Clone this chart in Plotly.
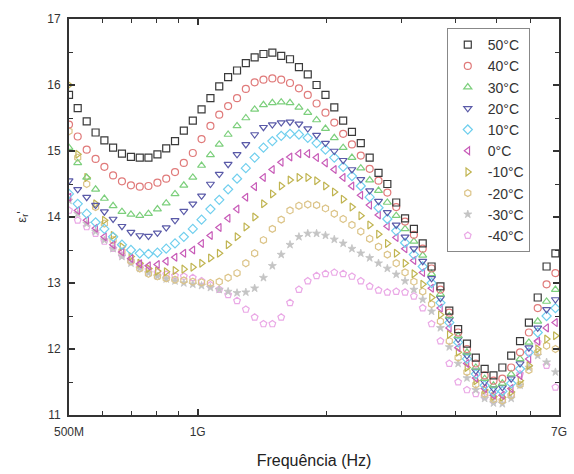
import plotly.graph_objects as go

freq_ghz = [0.500, 0.524, 0.550, 0.577, 0.605, 0.634, 0.665, 0.698, 0.732, 0.767,
            0.805, 0.844, 0.885, 0.928, 0.974, 1.021, 1.071, 1.123, 1.178, 1.236,
            1.296, 1.359, 1.425, 1.495, 1.568, 1.644, 1.725, 1.809, 1.897, 1.990,
            2.087, 2.189, 2.295, 2.407, 2.525, 2.648, 2.777, 2.913, 3.055, 3.204,
            3.360, 3.524, 3.696, 3.877, 4.066, 4.264, 4.472, 4.690, 4.919, 5.159,
            5.411, 5.675, 5.952, 6.242, 6.547, 6.866]

eps_50 = [15.85, 15.65, 15.45, 15.28, 15.16, 15.05, 14.96, 14.91, 14.90, 14.90,
          14.95, 15.04, 15.15, 15.31, 15.46, 15.63, 15.80, 15.98, 16.12, 16.22,
          16.33, 16.42, 16.47, 16.49, 16.44, 16.39, 16.27, 16.16, 16.00, 15.85,
          15.66, 15.46, 15.29, 15.12, 14.90, 14.67, 14.50, 14.22, 13.98, 13.82,
          13.60, 13.25, 12.95, 12.58, 12.30, 12.08, 11.87, 11.70, 11.60, 11.72,
          11.90, 12.12, 12.40, 12.78, 13.25, 13.45]
eps_40 = [15.40, 15.22, 15.02, 14.88, 14.76, 14.63, 14.54, 14.48, 14.46, 14.47,
          14.52, 14.58, 14.68, 14.82, 14.97, 15.18, 15.38, 15.55, 15.68, 15.80,
          15.94, 16.04, 16.08, 16.10, 16.08, 16.03, 15.95, 15.85, 15.72, 15.58,
          15.43, 15.26, 15.10, 14.93, 14.73, 14.55, 14.37, 14.15, 13.93, 13.73,
          13.52, 13.22, 12.90, 12.55, 12.25, 12.00, 11.78, 11.60, 11.52, 11.55,
          11.72, 11.95, 12.25, 12.62, 12.98, 13.15]
eps_30 = [15.05, 14.82, 14.60, 14.42, 14.28, 14.17, 14.08, 14.04, 14.02, 14.05,
          14.12, 14.21, 14.35, 14.48, 14.60, 14.78, 14.94, 15.10, 15.25, 15.38,
          15.50, 15.63, 15.70, 15.73, 15.74, 15.73, 15.66, 15.58, 15.47, 15.34,
          15.20, 15.05, 14.90, 14.74, 14.56, 14.40, 14.22, 14.02, 13.82, 13.63,
          13.42, 13.14, 12.83, 12.50, 12.20, 11.95, 11.72, 11.55, 11.45, 11.48,
          11.62, 11.85, 12.10, 12.42, 12.72, 12.90]
eps_20 = [14.55, 14.42, 14.30, 14.18, 14.08, 13.97, 13.86, 13.77, 13.72, 13.71,
          13.76, 13.84, 13.95, 14.09, 14.20, 14.32, 14.50, 14.65, 14.80, 14.95,
          15.10, 15.25, 15.36, 15.40, 15.43, 15.44, 15.41, 15.34, 15.24, 15.12,
          15.00, 14.86, 14.72, 14.57, 14.40, 14.24, 14.07, 13.88, 13.70, 13.52,
          13.33, 13.07, 12.77, 12.45, 12.15, 11.90, 11.67, 11.50, 11.40, 11.42,
          11.55, 11.78, 12.02, 12.32, 12.60, 12.75]
eps_10 = [14.35, 14.20, 14.05, 13.92, 13.82, 13.70, 13.58, 13.50, 13.45, 13.44,
          13.46, 13.52, 13.60, 13.70, 13.82, 13.96, 14.12, 14.26, 14.42, 14.58,
          14.74, 14.90, 15.05, 15.15, 15.23, 15.26, 15.25, 15.20, 15.12, 15.02,
          14.90, 14.76, 14.62, 14.47, 14.30, 14.14, 13.97, 13.79, 13.61, 13.43,
          13.25, 13.00, 12.70, 12.40, 12.10, 11.85, 11.62, 11.45, 11.35, 11.36,
          11.48, 11.70, 11.95, 12.25, 12.50, 12.62]
eps_0 = [14.30, 14.10, 13.95, 13.83, 13.70, 13.58, 13.47, 13.37, 13.29, 13.26,
         13.28, 13.33, 13.39, 13.45, 13.50, 13.60, 13.72, 13.84, 13.98, 14.12,
         14.30, 14.46, 14.60, 14.72, 14.83, 14.91, 14.96, 14.96, 14.90, 14.82,
         14.72, 14.60, 14.47, 14.33, 14.18, 14.03, 13.86, 13.69, 13.52, 13.34,
         13.16, 12.92, 12.62, 12.32, 12.02, 11.78, 11.56, 11.40, 11.30, 11.30,
         11.40, 11.60, 11.85, 12.12, 12.32, 12.40]
eps_m10 = [16.00, 14.95, 14.60, 14.20, 13.95, 13.72, 13.55, 13.40, 13.30, 13.22,
           13.18, 13.17, 13.19, 13.21, 13.24, 13.30, 13.38, 13.45, 13.58, 13.70,
           13.85, 14.00, 14.20, 14.35, 14.47, 14.56, 14.60, 14.60, 14.55, 14.47,
           14.38, 14.27, 14.15, 14.02, 13.88, 13.74, 13.60, 13.45, 13.30, 13.14,
           12.98, 12.78, 12.52, 12.22, 11.95, 11.72, 11.52, 11.38, 11.28, 11.27,
           11.35, 11.52, 11.75, 12.00, 12.15, 12.20]
eps_m20 = [15.30, 14.90, 14.50, 14.15, 13.90, 13.65, 13.48, 13.33, 13.22, 13.14,
           13.10, 13.07, 13.05, 13.04, 13.02, 13.01, 13.00, 13.02, 13.08, 13.15,
           13.30, 13.45, 13.65, 13.82, 13.96, 14.10, 14.17, 14.19, 14.18, 14.13,
           14.05, 13.97, 13.88, 13.78, 13.67, 13.55, 13.43, 13.30, 13.16, 13.02,
           12.87, 12.68, 12.42, 12.12, 11.87, 11.65, 11.46, 11.32, 11.24, 11.22,
           11.30, 11.46, 11.68, 11.95, 12.05, 12.00]
eps_m30 = [14.25, 14.05, 13.90, 13.78, 13.65, 13.52, 13.40, 13.30, 13.22, 13.15,
           13.10, 13.06, 13.03, 13.00, 12.98, 12.96, 12.93, 12.90, 12.87, 12.85,
           12.86, 12.92, 13.08, 13.26, 13.43, 13.58, 13.70, 13.75, 13.75, 13.72,
           13.66, 13.60, 13.52, 13.45, 13.38, 13.30, 13.22, 13.13, 13.03, 12.90,
           12.75, 12.57, 12.32, 12.03, 11.78, 11.56, 11.38, 11.25, 11.18, 11.17,
           11.25, 11.45, 11.72, 11.90, 11.80, 11.65]
eps_m40 = [14.10, 13.95, 13.85, 13.75, 13.63, 13.52, 13.42, 13.33, 13.26, 13.20,
           13.16, 13.13, 13.11, 13.10, 13.08, 13.03, 12.97, 12.90, 12.82, 12.73,
           12.60, 12.48, 12.38, 12.38, 12.48, 12.70, 12.90, 13.03, 13.11, 13.14,
           13.16, 13.14, 13.10, 13.03, 12.95, 12.89, 12.86, 12.87, 12.86, 12.80,
           12.62, 12.38, 12.12, 11.78, 11.50, 11.38, 11.32, 11.28, 11.22, 11.22,
           11.30, 11.62, 11.95, 12.10, 11.75, 11.42]

labels = ["50°C", "40°C", "30°C", "20°C", "10°C", "0°C", "-10°C", "-20°C", "-30°C", "-40°C"]
series = [eps_50, eps_40, eps_30, eps_20, eps_10, eps_0, eps_m10, eps_m20, eps_m30, eps_m40]
colors = ["#3a3a3a", "#e07a7a", "#7ccf7c", "#5a5aa8", "#70cfee", "#c85cb8",
          "#c0b450", "#dcc488", "#c4c4c4", "#eaa8e6"]
symbols = ["square-open", "circle-open", "triangle-up-open", "triangle-down-open",
           "diamond-open", "triangle-left-open", "triangle-right-open", "hexagon-open",
           "star", "pentagon-open"]

x_tick_vals = [5e8, 1e9, 7e9]
x_tick_text = ["500M", "1G", "7G"]
x_minor_vals = [6e8, 7e8, 8e8, 9e8, 2e9, 3e9, 4e9, 5e9, 6e9]
y_tick_vals = [11, 12, 13, 14, 15, 16, 17]

freq_hz = [f * 1e9 for f in freq_ghz]

fig = go.Figure()
for i in reversed(range(len(series))):
    is_star = symbols[i] == "star"
    fig.add_trace(go.Scatter(
        x=freq_hz, y=series[i], mode="markers", name=labels[i],
        marker=dict(symbol=symbols[i], size=6 if is_star else 7,
                    color=colors[i], line=dict(width=0.8 if is_star else 1.2, color=colors[i])),
    ))

axis_common = dict(showline=True, linecolor="#333", linewidth=2, mirror="ticks",
                   ticks="inside", tickcolor="#333", tickwidth=1.5, ticklen=6,
                   showgrid=False, zeroline=False,
                   tickfont=dict(family="Liberation Sans, Arial", size=12, color="#333"))

fig.update_xaxes(type="log", range=[8.69897, 9.84510],
                 tickmode="array", tickvals=x_tick_vals, ticktext=x_tick_text,
                 ticklabelstandoff=5,
                 minor=dict(tickvals=x_minor_vals, ticks="inside", ticklen=4,
                            tickcolor="#333", tickwidth=1.2),
                 title=dict(text="Frequência (Hz)", standoff=16,
                            font=dict(family="Liberation Sans, Arial", size=16, color="#222")),
                 **axis_common)
fig.update_yaxes(range=[11, 17], tickmode="array", tickvals=y_tick_vals,
                 ticklabelstandoff=4,
                 minor=dict(dtick=0.5, ticks="inside", ticklen=4,
                            tickcolor="#333", tickwidth=1.2),
                 title=dict(text="ε<sub>r</sub>'", standoff=18,
                            font=dict(family="Liberation Sans, Arial", size=13, color="#333")),
                 **axis_common)

fig.update_layout(
    width=574, height=474,
    margin=dict(l=69, r=7, t=19, b=58),
    paper_bgcolor="white", plot_bgcolor="white",
    showlegend=True,
    legend=dict(x=0.771, y=0.977, xanchor="left", yanchor="top",
                traceorder="reversed", bordercolor="#888", borderwidth=1,
                bgcolor="white",
                font=dict(family="Liberation Sans, Arial", size=14, color="#333"),
                itemwidth=30, tracegroupgap=0),
)

fig.write_html("out.html")
